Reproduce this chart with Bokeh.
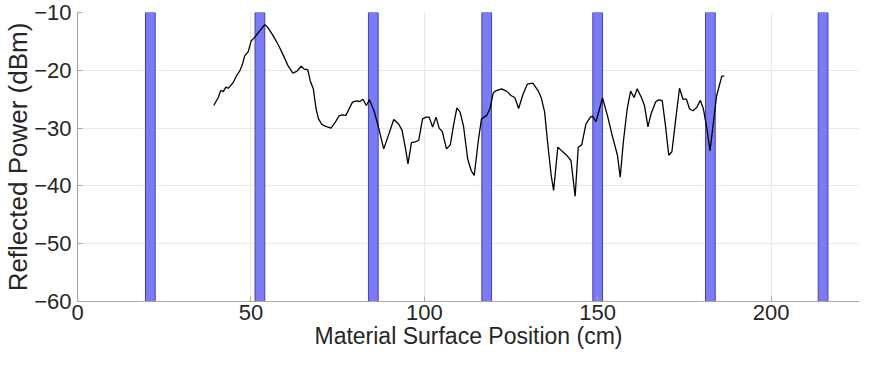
from bokeh.plotting import figure
from bokeh.models import Range1d, FixedTicker
from bokeh.embed import file_html
from bokeh.resources import INLINE

# Curve: material surface position (cm) vs reflected power (dBm)
pos_cm = [39.3, 40.6, 41.3, 42.0, 42.8, 43.5, 44.1, 44.9, 45.9, 46.8, 47.6, 48.2, 49.2, 50.1,
          51.1, 52.5, 54.0, 54.9, 56.4, 57.8, 59.2, 60.7, 62.1, 63.2, 64.5, 65.4, 66.4, 67.1,
          68.0, 68.8, 69.5, 70.5, 71.6, 73.1, 74.3, 75.4, 76.4, 77.4, 78.3, 79.3, 80.4, 81.4,
          82.3, 83.3, 84.2, 85.5, 86.7, 88.3, 89.8, 91.2, 92.6, 93.6, 94.6, 95.3, 96.3, 97.4,
          98.4, 99.5, 100.5, 101.4, 102.4, 103.4, 104.3, 105.2, 106.4, 107.5, 108.4, 109.4,
          110.3, 111.3, 112.5, 113.5, 114.4, 115.6, 116.5, 118.0, 118.9, 119.9, 120.8, 122.3,
          123.7, 125.1, 126.1, 127.2, 128.5, 129.7, 131.3, 132.8, 133.7, 134.7, 135.6, 136.6,
          137.3, 138.5, 139.6, 140.9, 142.3, 143.5, 144.4, 145.4, 146.6, 147.9, 148.5, 149.5,
          151.4, 152.8, 154.2, 155.7, 156.5, 157.4, 158.5, 159.5, 160.5, 161.4, 162.6, 163.5,
          164.5, 165.4, 166.7, 167.6, 168.6, 169.5, 170.5, 171.4, 172.4, 173.6, 174.6, 175.6,
          176.5, 177.5, 178.6, 179.6, 180.5, 181.5, 182.4, 184.3, 185.8, 186.5]
power_dbm = [-26.1, -24.7, -23.5, -23.7, -22.9, -23.1, -22.7, -22.1, -20.9, -20.1, -18.9, -17.5,
             -16.8, -14.9, -14.3, -13.2, -12.1, -12.6, -14.0, -15.5, -17.2, -19.2, -20.5, -20.2,
             -19.3, -19.8, -19.9, -21.8, -23.2, -26.7, -28.4, -29.4, -29.7, -30.0, -29.0, -27.9,
             -27.7, -27.8, -26.7, -25.5, -25.3, -25.4, -25.0, -26.1, -25.1, -27.0, -29.6, -33.6,
             -31.0, -28.5, -29.3, -30.4, -33.6, -36.2, -32.5, -32.4, -32.1, -28.4, -28.1, -28.1,
             -29.8, -28.1, -30.0, -30.6, -33.6, -32.9, -29.6, -26.5, -27.2, -29.6, -35.3, -37.3,
             -38.2, -32.1, -28.4, -27.8, -26.7, -23.9, -23.5, -23.2, -23.6, -24.4, -24.7, -26.6,
             -24.1, -22.4, -22.2, -23.5, -24.7, -27.2, -32.7, -38.2, -40.8, -33.3, -33.9, -34.6,
             -35.6, -41.8, -33.3, -32.9, -29.3, -28.1, -27.9, -28.9, -24.8, -27.8, -31.3, -34.7,
             -38.5, -32.4, -26.7, -23.6, -24.7, -23.2, -24.7, -26.1, -29.8, -27.5, -25.5, -25.1,
             -25.2, -29.3, -34.7, -34.1, -29.0, -23.1, -25.0, -25.0, -26.7, -27.0, -26.4, -25.2,
             -26.7, -30.1, -33.9, -24.4, -21.0, -21.0]

# Marker bars (centre positions, cm)
bar_centers = [21.0, 52.6, 85.3, 118.0, 150.0, 182.5, 215.0]
bar_width = 2.8
bar_bottom = -60
bar_top = -10

x_ticks = [0, 50, 100, 150, 200]
y_ticks = [-60, -50, -40, -30, -20, -10]

FONT = "Liberation Sans"

p = figure(width=859, height=356, output_backend="svg", toolbar_location=None,
           x_range=Range1d(0, 225.5), y_range=Range1d(-60, -10),
           min_border_left=72, min_border_right=0, min_border_top=12, min_border_bottom=55)

p.vbar(x=bar_centers, width=bar_width, bottom=bar_bottom, top=bar_top,
       fill_color="#7b7bf4", line_color="#3f3fb8", line_width=1)

p.line(pos_cm, power_dbm, line_color="black", line_width=1.3)

p.outline_line_color = None
p.background_fill_color = "white"
p.border_fill_color = "white"

for ax in (p.xaxis[0], p.yaxis[0]):
    ax.axis_line_color = "#a6a6a6"
    ax.major_tick_line_color = "#a6a6a6"
    ax.major_tick_in = 5
    ax.major_tick_out = 0
    ax.minor_tick_line_color = None
    ax.major_label_text_font = FONT
    ax.major_label_text_font_size = "22px"
    ax.major_label_text_color = "#262626"
    ax.axis_label_text_font = FONT
    ax.axis_label_text_font_style = "normal"
    ax.axis_label_text_color = "#262626"

p.xaxis.ticker = FixedTicker(ticks=x_ticks)
p.yaxis.ticker = FixedTicker(ticks=y_ticks)
p.xaxis.axis_label = "Material Surface Position (cm)"
p.yaxis.axis_label = "Reflected Power (dBm)"
p.xaxis.axis_label_text_font_size = "23px"
p.yaxis.axis_label_text_font_size = "26px"
p.xaxis.major_label_standoff = 3
p.xaxis.axis_label_standoff = 0
p.yaxis.major_label_standoff = 6
p.yaxis.axis_label_standoff = -2

p.xgrid.ticker = FixedTicker(ticks=x_ticks)
p.ygrid.ticker = FixedTicker(ticks=y_ticks)
p.grid.grid_line_color = "#e8e8e8"
p.grid.grid_line_width = 1

open("out.html", "w").write(file_html(p, INLINE))
